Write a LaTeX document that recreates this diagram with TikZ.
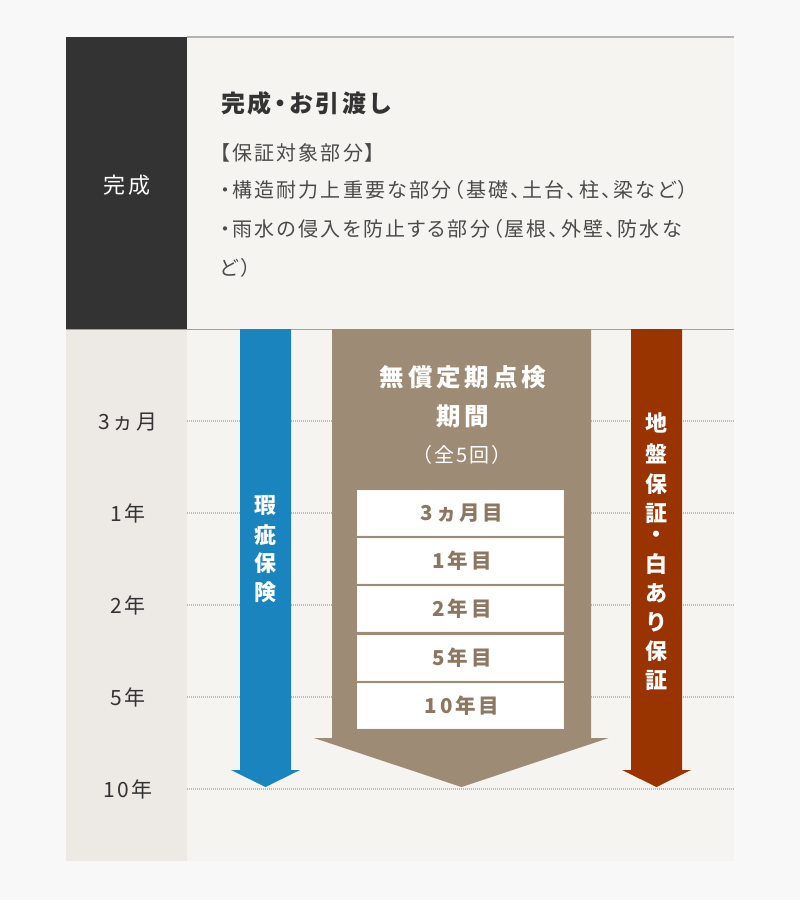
\documentclass[tikz,border=0pt]{standalone}
\usepackage{fontspec}
\setmainfont{Noto Sans CJK JP}
\newfontfamily\jpp{Noto Sans CJK JP}[RawFeature=+palt, LetterSpace=11]
\newfontfamily\jpw{Noto Sans CJK JP}[LetterSpace=12]
\newfontfamily\jpm{Noto Sans CJK JP}[LetterSpace=14]
\definecolor{outerbg}{HTML}{F8F8F8}
\definecolor{panelbg}{HTML}{F5F4F1}
\definecolor{darkcol}{HTML}{333333}
\definecolor{lightcol}{HTML}{EDEAE6}
\definecolor{rulegray}{HTML}{B4B4B4}
\definecolor{dotgray}{HTML}{BBBBBB}
\definecolor{hokenblue}{HTML}{1A84BF}
\definecolor{tenbrown}{HTML}{9E8B76}
\definecolor{boxtext}{HTML}{8C7862}
\definecolor{jibanred}{HTML}{993300}
\definecolor{bodytext}{HTML}{4A4A4A}
\definecolor{labeltext}{HTML}{333333}
\tikzset{
  txt/.style={inner sep=0pt, outer sep=0pt},
  body/.style={txt, anchor=base west, text=bodytext, font=\jpp\fontsize{20}{24}\selectfont},
  yearlbl/.style={txt, anchor=base, text=labeltext, font=\jpw\fontsize{21}{24}\selectfont},
  gridline/.style={draw=dotgray, line width=1.2pt, dash pattern=on 1pt off 1pt},
  checkbox/.style={fill=white, draw=white!92!tenbrown, line width=0.8pt, minimum width=206pt, minimum height=45pt, inner sep=0pt},
  boxlbl/.style={txt, anchor=base, text=boxtext, font=\jpm\bfseries\fontsize{20.5}{24}\selectfont},
  vchar/.style={txt, anchor=center, text=white, font=\bfseries\fontsize{22}{24}\selectfont},
}
\begin{document}
\begin{tikzpicture}[x=1pt,y=-1pt]
\useasboundingbox (0,0) rectangle (800,900);
\fill[outerbg] (0,0) rectangle (800,900);
\fill[panelbg] (66,37) rectangle (734,861);
\fill[darkcol] (66,37) rectangle (187,329);
\fill[lightcol] (66,329) rectangle (187,861);
\draw[rulegray, line width=2pt] (187,37) -- (734,37);
\draw[rulegray!90!black, line width=1.6pt] (66,329.5) -- (734,329.5);
% grid lines
\foreach \yy in {421,513,605,697,789}
  \draw[gridline] (187,\yy) -- (734,\yy);
% year labels
\node[yearlbl] (m3) at (128,429) {3ヵ月};
\node[yearlbl] (y1) at (128,521) {1年};
\node[yearlbl] (y2) at (128,613) {2年};
\node[yearlbl] (y5) at (128,705) {5年};
\node[yearlbl] (y10) at (128,797) {10年};
% arrows
\fill[hokenblue] (240,329) -- (291,329) -- (291,770) -- (300,770) -- (265.5,787) -- (231,770) -- (240,770) -- cycle;
\fill[tenbrown] (332,329) -- (591,329) -- (591,738) -- (608.5,738) -- (461.5,787) -- (314,738) -- (332,738) -- cycle;
\fill[jibanred] (631,329) -- (682,329) -- (682,770) -- (691,770) -- (656.5,787) -- (622,770) -- (631,770) -- cycle;
% top panel texts
\node[txt, anchor=base, text=white, font=\jpw\fontsize{22}{24}\selectfont] (kansei) at (127,193.4) {完成};
\node[txt, anchor=base west, text=labeltext, font=\jpp\addfontfeature{LetterSpace=12}\bfseries\fontsize{24}{26}\selectfont] (title) at (221,112) {完成・お引渡し};
\node[body] (l1) at (220,160.6) {【保証対象部分】};
\node[body] (l2) at (220,197.6) {・構造耐力上重要な部分（基礎、土台、柱、梁など）};
\node[body] (l3) at (220,236.6) {・雨水の侵入を防止する部分（屋根、外壁、防水な};
\node[body] (l4) at (220,275.6) {ど）};
% brown arrow texts
\node[txt, anchor=base, text=white, font=\jpw\addfontfeature{LetterSpace=16}\bfseries\fontsize{24.5}{28}\selectfont] (tt1) at (463,386.8) {無償定期点検};
\node[txt, anchor=base, text=white, font=\jpw\addfontfeature{LetterSpace=16}\bfseries\fontsize{24.5}{28}\selectfont] (tt2) at (463,425.3) {期間};
\node[txt, anchor=base, text=white, font=\jpw\addfontfeature{LetterSpace=10}\fontsize{20}{24}\selectfont] (tt3) at (462,462.6) {（全5回）};
% check boxes
\node[checkbox] (b1) at (460.5,512.5) {};
\node[checkbox] (b2) at (460.5,560.8) {};
\node[checkbox] (b3) at (460.5,609.1) {};
\node[checkbox] (b4) at (460.5,657.4) {};
\node[checkbox] (b5) at (460.5,705.7) {};
\node[boxlbl] (t1) at ([xshift=1.5pt,yshift=-7.6pt]b1.center) {3ヵ月目};
\node[boxlbl] (t2) at ([xshift=1.5pt,yshift=-7.6pt]b2.center) {1年目};
\node[boxlbl] (t3) at ([xshift=1.5pt,yshift=-7.6pt]b3.center) {2年目};
\node[boxlbl] (t4) at ([xshift=1.5pt,yshift=-7.6pt]b4.center) {5年目};
\node[boxlbl] (t5) at ([xshift=1.5pt,yshift=-7.6pt]b5.center) {10年目};
% vertical labels
\foreach \c/\yy [count=\i] in {瑕/506, 疵/535, 保/563, 険/592}
  \node[vchar] (hk\i) at (265.5,\yy) {\c};
\foreach \c/\yy [count=\i] in {地/423, 盤/454, 保/484, 証/513, ・/537, 白/564, あ/593, り/622, 保/651, 証/680}
  \node[vchar] (jb\i) at (656.5,\yy) {\c};
\end{tikzpicture}
\end{document}
